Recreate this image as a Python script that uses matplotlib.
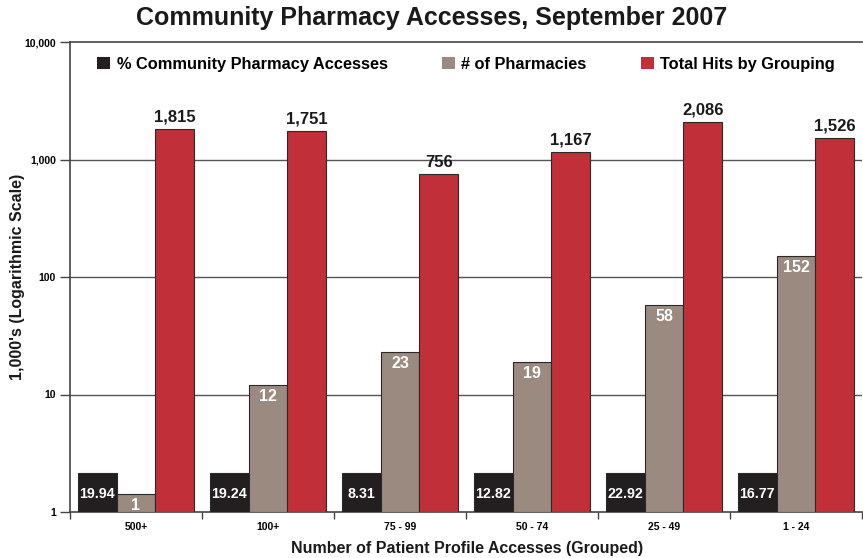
import matplotlib
matplotlib.use("Agg")
import matplotlib.pyplot as plt
import numpy as np
from matplotlib.ticker import FixedLocator, FuncFormatter

plt.rcParams['font.family'] = ['Liberation Sans', 'DejaVu Sans']

categories = ["500+", "100+", "75 - 99", "50 - 74", "25 - 49", "1 - 24"]
pct_labels = ["19.94", "19.24", "8.31", "12.82", "22.92", "16.77"]
pct_bar_heights = [2.15, 2.15, 2.15, 2.15, 2.15, 2.15]
pharmacies = [1, 12, 23, 19, 58, 152]
pharm_bar_heights = [1.42, 12, 23, 19, 58, 152]
total_hits = [1815, 1751, 756, 1167, 2086, 1526]

c_black = "#231F20"
c_grey = "#9A8A80"
c_red = "#C12F38"
edge = "#2a2a2a"

fig = plt.figure(figsize=(8.63, 5.58), dpi=100)
ax = fig.add_axes([70/863, 1-512/558, 792/863, 470/558])

x = np.arange(len(categories))
w = 0.295
base = 1
ax.bar(x - w, [h - base for h in pct_bar_heights], w, bottom=base, color=c_black, edgecolor=edge, lw=0.8,
       zorder=3, label="% Community Pharmacy Accesses")
ax.bar(x, [h - base for h in pharm_bar_heights], w, bottom=base, color=c_grey, edgecolor=edge, lw=0.8,
       zorder=3, label="# of Pharmacies")
ax.bar(x + w, [h - base for h in total_hits], w, bottom=base, color=c_red, edgecolor=edge, lw=0.8,
       zorder=3, label="Total Hits by Grouping")

ax.set_yscale('log')
ax.set_ylim(1, 10000)
ax.set_xlim(-0.5, len(categories) - 0.5)

for i in range(len(categories)):
    ax.annotate(pct_labels[i], (x[i] - w, base), xytext=(0, 8), textcoords='offset points',
                ha='center', va='bottom', color='white', fontsize=10.3, fontweight='bold', zorder=5)
    ax.annotate(str(pharmacies[i]), (x[i], pharm_bar_heights[i]), xytext=(0, -3), textcoords='offset points',
                ha='center', va='top', color='white', fontsize=11.5, fontweight='bold', zorder=5)
    ax.annotate(f"{total_hits[i]:,}", (x[i] + w, total_hits[i]), xytext=(0, 3), textcoords='offset points',
                ha='center', va='bottom', color='#1a1a1a', fontsize=12, fontweight='bold', zorder=5)

ax.yaxis.set_major_locator(FixedLocator([1, 10, 100, 1000, 10000]))
ax.yaxis.set_minor_locator(FixedLocator([]))
ax.yaxis.set_major_formatter(FuncFormatter(lambda v, p: f"{int(round(v)):,}"))
ax.tick_params(axis='y', which='major', direction='out', length=7, width=1, color='#444444',
               labelsize=7.5, pad=3)
for t in ax.get_yticklabels():
    t.set_fontweight('bold')

ax.set_xticks(x)
ax.set_xticklabels(categories, fontsize=7.5, fontweight='bold')
ax.set_xticks(np.arange(-0.5, len(categories)), minor=True)
ax.tick_params(axis='x', which='major', length=0, pad=7)
ax.tick_params(axis='x', which='minor', direction='out', length=5, width=1, color='#444444')

for yv in [10, 100, 1000]:
    ax.axhline(yv, color='#555555', lw=1, zorder=1)

for s in ['left', 'bottom', 'top']:
    ax.spines[s].set_color('#444444')
    ax.spines[s].set_linewidth(1.2)
ax.spines['right'].set_visible(False)

fig.text(18/863, 1-277/558, "1,000's (Logarithmic Scale)", rotation=90, ha='center', va='center',
         fontsize=11.5, fontweight='bold', color='#1a1a1a')
fig.text(467/863, 1-548/558, "Number of Patient Profile Accesses (Grouped)", ha='center', va='center',
         fontsize=11.5, fontweight='bold', color='#1a1a1a')
fig.text(432/863, 1-18/558, "Community Pharmacy Accesses, September 2007", ha='center', va='center',
         fontsize=18, fontweight='bold', color='#1a1a1a')

leg = ax.legend(loc='upper center', bbox_to_anchor=(0.5, 1.0), ncol=3, frameon=False,
                prop={'weight': 'bold', 'size': 11.8}, handlelength=0.8, handleheight=0.8,
                handletextpad=0.4, columnspacing=3.3)
for h in leg.legend_handles:
    h.set_edgecolor('none')

fig.savefig("out.png", dpi=100)
